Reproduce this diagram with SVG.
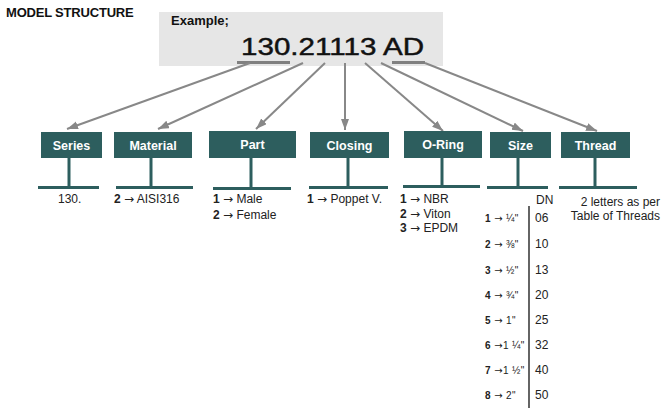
<svg xmlns="http://www.w3.org/2000/svg" width="665" height="409" viewBox="0 0 665 409">
<style>
.box{fill:#2d5e5e}
.stem{stroke:#2d5e5e;stroke-width:3}
.bar{fill:#2d5e5e}
.lbl{font-family:"Liberation Sans",Arial,sans-serif;font-weight:bold;font-size:12.5px;fill:#ffffff;text-anchor:middle}
.t{font-family:"Liberation Sans",Arial,sans-serif;font-size:12px;fill:#222222}
.b{font-weight:bold}
.ar{font-family:"DejaVu Sans",sans-serif}
.s{font-family:"Liberation Sans",Arial,sans-serif;font-size:10px;fill:#222222;letter-spacing:0.4px}
.conn{stroke:#888888;stroke-width:2;fill:none;marker-end:url(#ah)}
</style>
<defs>
<marker id="ah" markerUnits="userSpaceOnUse" markerWidth="12" markerHeight="10" refX="11" refY="4" orient="auto">
<path d="M0,0 L11,4 L0,8 Z" fill="#888888"/>
</marker>
</defs>
<rect width="665" height="409" fill="#ffffff"/>
<text x="6" y="17" font-family="'Liberation Sans',Arial,sans-serif" font-weight="bold" font-size="13" fill="#111" letter-spacing="-0.2">MODEL STRUCTURE</text>
<g id="example">
<rect x="159" y="12" width="284" height="54" fill="#e6e6e6"/>
<text x="171" y="25" font-family="'Liberation Sans',Arial,sans-serif" font-weight="bold" font-size="13" fill="#111">Example;</text>
<text x="241" y="55" font-family="'Liberation Sans',Arial,sans-serif" font-size="24" fill="#111" stroke="#111" stroke-width="0.45" textLength="183" lengthAdjust="spacingAndGlyphs">130.21113 AD</text>
<rect x="237" y="61" width="53" height="3" fill="#808080"/>
<rect x="392" y="61" width="33" height="3" fill="#808080"/>
</g>
<g id="connectors">
<line class="conn" x1="250" y1="63" x2="67" y2="129"/>
<line class="conn" x1="303" y1="63" x2="158" y2="129"/>
<line class="conn" x1="325" y1="63" x2="256" y2="129"/>
<line class="conn" x1="345" y1="63" x2="345" y2="130"/>
<line class="conn" x1="365" y1="63" x2="443" y2="131"/>
<line class="conn" x1="381" y1="63" x2="523" y2="131"/>
<line class="conn" x1="425" y1="63" x2="597" y2="131"/>
</g>
<g id="series">
<rect class="box" x="41" y="132" width="61" height="26"/>
<text class="lbl" x="71.5" y="150">Series</text>
<line class="stem" x1="69" y1="158" x2="69" y2="187"/>
<rect class="bar" x="38" y="186" width="61" height="3"/>
<text class="t" x="58" y="203">130.</text>
</g>
<g id="material">
<rect class="box" x="114" y="132" width="78" height="26"/>
<text class="lbl" x="153" y="150">Material</text>
<line class="stem" x1="151" y1="158" x2="151" y2="187"/>
<rect class="bar" x="116" y="186" width="77" height="3"/>
<text class="t" x="114" y="203"><tspan class="b">2</tspan> <tspan class="ar">→</tspan> AISI316</text>
</g>
<g id="part">
<rect class="box" x="209" y="131" width="87" height="27"/>
<text class="lbl" x="252.5" y="149">Part</text>
<line class="stem" x1="251" y1="158" x2="251" y2="188"/>
<rect class="bar" x="213" y="187" width="78" height="3"/>
<text class="t" x="213" y="203"><tspan class="b">1</tspan> <tspan class="ar">→</tspan> Male</text>
<text class="t" x="213" y="219"><tspan class="b">2</tspan> <tspan class="ar">→</tspan> Female</text>
</g>
<g id="closing">
<rect class="box" x="310" y="132" width="79" height="26"/>
<text class="lbl" x="349.5" y="150">Closing</text>
<line class="stem" x1="348" y1="158" x2="348" y2="187"/>
<rect class="bar" x="309" y="186" width="79" height="3"/>
<text class="t" x="307" y="203"><tspan class="b">1</tspan> <tspan class="ar">→</tspan> Poppet V.</text>
</g>
<g id="oring">
<rect class="box" x="404" y="131" width="78" height="27"/>
<text class="lbl" x="443" y="149">O-Ring</text>
<line class="stem" x1="442" y1="158" x2="442" y2="186"/>
<rect class="bar" x="403" y="185" width="77" height="3"/>
<text class="t" x="400" y="203"><tspan class="b">1</tspan> <tspan class="ar">→</tspan> NBR</text>
<text class="t" x="400" y="218"><tspan class="b">2</tspan> <tspan class="ar">→</tspan> Viton</text>
<text class="t" x="400" y="232"><tspan class="b">3</tspan> <tspan class="ar">→</tspan> EPDM</text>
</g>
<g id="size">
<rect class="box" x="490" y="132" width="61" height="26"/>
<text class="lbl" x="520.5" y="150">Size</text>
<line class="stem" x1="518" y1="158" x2="518" y2="187"/>
<rect class="bar" x="487" y="186" width="61" height="3"/>
<text class="t" x="536" y="204">DN</text>
<line x1="529" y1="206" x2="529" y2="408" stroke="#111" stroke-width="1.3"/>
<g class="s">
<text x="485" y="222"><tspan class="b">1</tspan> <tspan class="ar">→</tspan> ¼"</text>
<text x="485" y="248"><tspan class="b">2</tspan> <tspan class="ar">→</tspan> ⅜"</text>
<text x="485" y="273.5"><tspan class="b">3</tspan> <tspan class="ar">→</tspan> ½"</text>
<text x="485" y="299"><tspan class="b">4</tspan> <tspan class="ar">→</tspan> ¾"</text>
<text x="485" y="324"><tspan class="b">5</tspan> <tspan class="ar">→</tspan>  1"</text>
<text x="485" y="349"><tspan class="b">6</tspan> <tspan class="ar">→</tspan>1 ¼"</text>
<text x="485" y="374"><tspan class="b">7</tspan> <tspan class="ar">→</tspan>1 ½"</text>
<text x="485" y="399"><tspan class="b">8</tspan> <tspan class="ar">→</tspan>  2"</text>
</g>
<g class="t" font-size="11">
<text x="535" y="222">06</text>
<text x="535" y="248">10</text>
<text x="535" y="273.5">13</text>
<text x="535" y="299">20</text>
<text x="535" y="324">25</text>
<text x="535" y="349">32</text>
<text x="535" y="374">40</text>
<text x="535" y="399">50</text>
</g>
</g>
<g id="thread">
<rect class="box" x="561" y="132" width="69" height="26"/>
<text class="lbl" x="595.5" y="150">Thread</text>
<line class="stem" x1="595" y1="158" x2="595" y2="187"/>
<rect class="bar" x="559" y="186" width="78" height="3"/>
<text class="t" x="660" y="206" text-anchor="end">2 letters as per</text>
<text class="t" x="660" y="220" text-anchor="end">Table of Threads</text>
</g>
</svg>
